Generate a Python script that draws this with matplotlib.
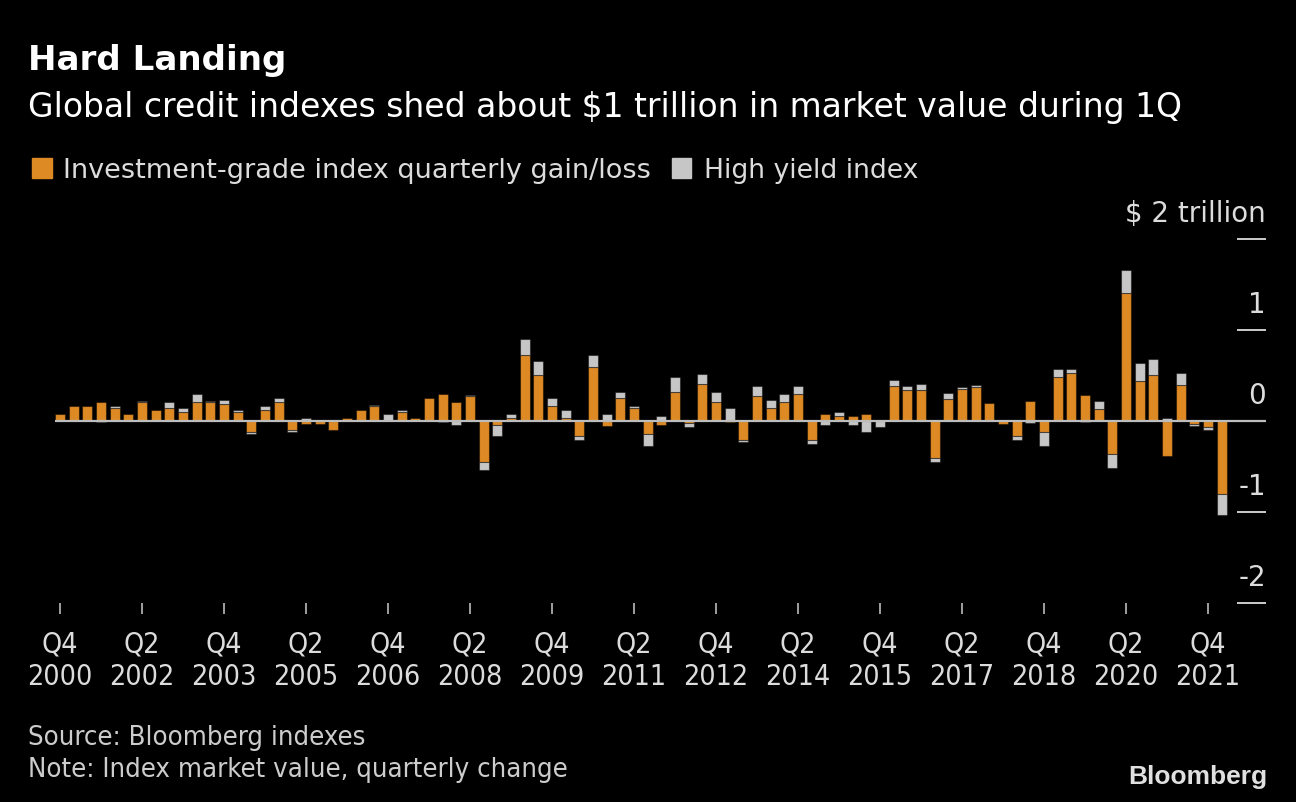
import numpy as np
import matplotlib
matplotlib.use("Agg")
from matplotlib import pyplot as plt
from matplotlib import font_manager as fm
from matplotlib.patches import Rectangle

# quarterly change in index market value, $ trillion, Q4 2000 .. Q1 2022
ig_change = [0.074, 0.16, 0.16, 0.205, 0.14, 0.074, 0.205, 0.117, 0.14, 0.095,
             0.205, 0.205, 0.183, 0.095, -0.12, 0.117, 0.205, -0.10, -0.037, -0.037,
             -0.10, 0.03, 0.117, 0.16, 0.0, 0.095, 0.03, 0.25, 0.293, 0.205,
             0.27, -0.45, -0.04, 0.03, 0.725, 0.505, 0.16, 0.03, -0.165, 0.593,
             -0.06, 0.25, 0.14, -0.143, -0.04, 0.315, -0.02, 0.403, 0.205, -0.01,
             -0.209, 0.27, 0.14, 0.205, 0.293, -0.21, 0.074, 0.05, 0.05, 0.074,
             0.0, 0.38, 0.337, 0.337, -0.407, 0.245, 0.355, 0.377, 0.2, -0.033,
             -0.168, 0.223, -0.125, 0.487, 0.531, 0.29, 0.135, -0.363, 1.403, 0.44,
             0.505, -0.38, 0.4, -0.033, -0.062, -0.8]
hy_change = [0.0, 0.0, 0.0, -0.01, 0.02, 0.0, 0.02, 0.0, 0.066, 0.044,
             0.088, 0.02, 0.044, 0.022, -0.02, 0.044, 0.044, -0.02, 0.03, 0.0,
             0.0, 0.0, 0.0, 0.02, 0.074, 0.022, 0.0, 0.0, -0.01, -0.04,
             0.02, -0.085, -0.125, 0.044, 0.175, 0.155, 0.088, 0.088, -0.044, 0.132,
             0.074, 0.066, 0.02, -0.132, 0.05, 0.172, -0.044, 0.11, 0.11, 0.14,
             -0.022, 0.11, 0.088, 0.088, 0.088, -0.044, -0.04, 0.044, -0.04, -0.12,
             -0.066, 0.066, 0.044, 0.066, -0.04, 0.066, 0.022, 0.022, 0.0, 0.0,
             -0.04, -0.02, -0.15, 0.088, 0.044, -0.015, 0.088, -0.15, 0.26, 0.197,
             0.176, 0.03, 0.13, -0.022, -0.037, -0.237]
tick_labels = ["Q4\n2000", "Q2\n2002", "Q4\n2003", "Q2\n2005", "Q4\n2006",
               "Q2\n2008", "Q4\n2009", "Q2\n2011", "Q4\n2012", "Q2\n2014",
               "Q4\n2015", "Q2\n2017", "Q4\n2018", "Q2\n2020", "Q4\n2021"]
y_ticks = [-2, -1, 0, 1, 2]
y_labels = ["-2", "-1", "0", "1", "$ 2 trillion"]

ORANGE = "#de8a24"
GRAY = "#c6c6c6"
TXT = "#dcdcdc"


def condensed():
    for f in fm.fontManager.ttflist:
        if f.fname.endswith("DejaVuSansCondensed.ttf"):
            return dict(fname=f.fname)
    return dict(family="DejaVu Sans")


COND = condensed()


def fp(size, bold=False, narrow=False):
    if narrow:
        return fm.FontProperties(size=size, **COND)
    return fm.FontProperties(family="DejaVu Sans", size=size,
                             weight="bold" if bold else "normal")


W, H = 1296, 802
fig = plt.figure(figsize=(W / 100, H / 100), dpi=100, facecolor="black")

x0, x1 = -0.4, 88.24
left_px, right_px = 54.5, 1266
ax = fig.add_axes([left_px / W, (H - 603) / H, (right_px - left_px) / W, (603 - 239) / H])
ax.set_facecolor("black")

ig = np.array(ig_change)
hy = np.array(hy_change)
x = np.arange(len(ig))
same_sign = np.sign(hy) == np.sign(ig)
hy_bottom = np.where(same_sign, ig, 0.0)

edge = (0, 0, 0, 0.45)
ax.bar(x, ig, width=0.72, color=ORANGE, edgecolor=edge, linewidth=0.8, zorder=2)
ax.bar(x, hy, bottom=hy_bottom, width=0.72, color=GRAY, edgecolor=edge, linewidth=0.8, zorder=2)
ax.axhline(0, color="#bdbdbd", lw=1.6, zorder=3)

ax.set_xlim(x0, x1)
ax.set_ylim(-2, 2)
for s in ax.spines.values():
    s.set_visible(False)

ax.set_xticks(x[::6])
ax.set_xticklabels(tick_labels)
ax.tick_params(axis="x", direction="out", length=8, width=1.2, colors="#bbbbbb", pad=12)
for lab in ax.get_xticklabels():
    lab.set_fontproperties(fp(20.5, narrow=True))
    lab.set_color(TXT)
    lab.set_linespacing(1.2)

ax.yaxis.tick_right()
ax.set_yticks(y_ticks)
ax.tick_params(axis="y", direction="in", length=21, width=1.4, colors="#cccccc",
               labelright=False, labelleft=False)
for v, lab in zip(y_ticks, y_labels):
    ax.annotate(lab, xy=(1, v), xycoords=("axes fraction", "data"),
                xytext=(0, 12), textcoords="offset points", ha="right",
                va="baseline", color=TXT, fontproperties=fp(20))


def ftext(px, py, s, prop, color, ha="left"):
    fig.text(px / W, 1 - py / H, s, fontproperties=prop, color=color,
             ha=ha, va="baseline")


ftext(28, 70, "Hard Landing", fp(24.6, bold=True), "white")
ftext(28, 117, "Global credit indexes shed about $1 trillion in market value during 1Q",
      fp(23.8), "white")

fig.patches.append(Rectangle((32 / W, 1 - 178 / H), 20 / W, 20 / H,
                             transform=fig.transFigure, color=ORANGE))
ftext(63, 178, "Investment-grade index quarterly gain/loss", fp(19.5), TXT)
fig.patches.append(Rectangle((672 / W, 1 - 178 / H), 19 / W, 20 / H,
                             transform=fig.transFigure, color=GRAY))
ftext(704, 178, "High yield index", fp(19.2), TXT)

ftext(28, 745, "Source: Bloomberg indexes", fp(19.7, narrow=True), "#cccccc")
ftext(28, 777, "Note: Index market value, quarterly change", fp(19.7, narrow=True), "#cccccc")

fig.text(1267 / W, 1 - 784 / H, "Bloomberg", family="Liberation Sans", weight="bold",
         size=19, color="#e0e0e0", ha="right", va="baseline")

fig.savefig("out.png", dpi=100, facecolor="black")
